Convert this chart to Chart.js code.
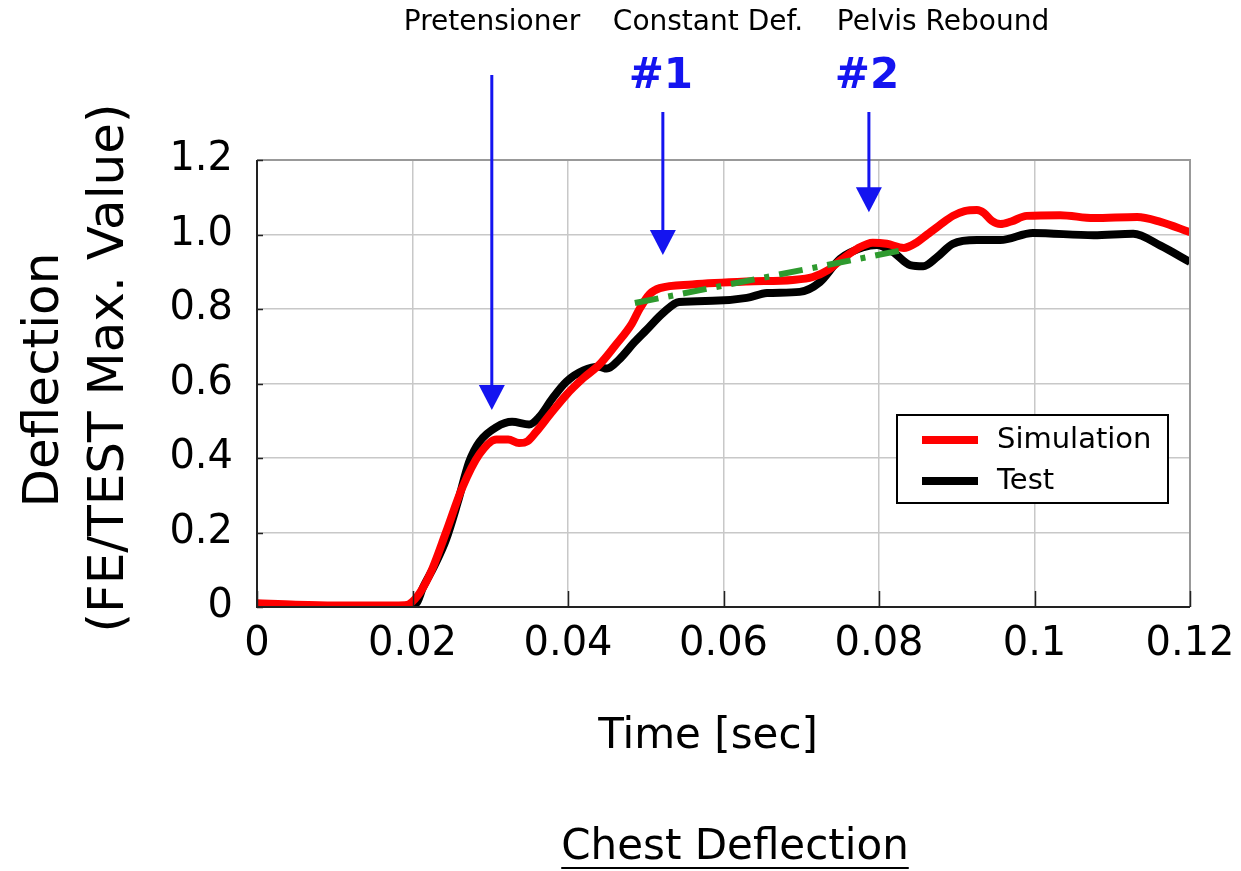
<!DOCTYPE html>
<html>
<head>
<meta charset="utf-8">
<script src="https://cdn.jsdelivr.net/npm/chart.js@4.4.1/dist/chart.umd.min.js"></script>
<style>
  html, body { margin: 0; padding: 0; background: #fff; }
  #wrap { width: 1241px; height: 871px; }
</style>
</head>
<body>
<div id="wrap"><canvas id="myChart" width="1241" height="871"></canvas></div>
<script>
// chest deflection, normalised by the test maximum
const simTime = [0, 0.005, 0.01, 0.015, 0.019, 0.0196, 0.021, 0.0225, 0.0243, 0.0264, 0.0286, 0.0308, 0.0323, 0.0337, 0.0348, 0.0359, 0.0378, 0.0398, 0.042, 0.044, 0.046, 0.0482, 0.0492, 0.0505, 0.0518, 0.056, 0.063, 0.0689, 0.0715, 0.0735, 0.075, 0.0772, 0.0792, 0.081, 0.0832, 0.0848, 0.0862, 0.0878, 0.0895, 0.091, 0.0926, 0.0935, 0.0945, 0.0956, 0.097, 0.099, 0.1033, 0.1076, 0.1132, 0.1162, 0.12];
const simDefl = [0.01, 0.006, 0.004, 0.004, 0.005, 0.008, 0.04, 0.1, 0.2, 0.32, 0.41, 0.45, 0.45, 0.44, 0.445, 0.47, 0.52, 0.57, 0.615, 0.65, 0.7, 0.76, 0.8, 0.84, 0.856, 0.866, 0.874, 0.878, 0.886, 0.905, 0.93, 0.962, 0.978, 0.975, 0.964, 0.978, 1.0, 1.025, 1.05, 1.063, 1.066, 1.058, 1.037, 1.028, 1.035, 1.05, 1.052, 1.044, 1.047, 1.034, 1.006];

const testTime = [0, 0.01, 0.019, 0.0205, 0.0213, 0.0228, 0.0243, 0.0258, 0.0273, 0.0286, 0.0308, 0.0328, 0.035, 0.0363, 0.038, 0.0398, 0.042, 0.044, 0.045, 0.0466, 0.0485, 0.0501, 0.0522, 0.0543, 0.0586, 0.063, 0.0656, 0.0698, 0.0724, 0.075, 0.078, 0.0797, 0.0818, 0.084, 0.0857, 0.0875, 0.0895, 0.0926, 0.0956, 0.0998, 0.1076, 0.1127, 0.1162, 0.12];
const testDefl = [0.005, 0.003, 0.003, 0.01, 0.05, 0.11, 0.18, 0.28, 0.39, 0.443, 0.483, 0.497, 0.49, 0.51, 0.56, 0.605, 0.635, 0.645, 0.64, 0.665, 0.71, 0.744, 0.789, 0.819, 0.822, 0.83, 0.843, 0.846, 0.872, 0.935, 0.966, 0.972, 0.953, 0.918, 0.915, 0.94, 0.975, 0.985, 0.985, 1.004, 0.998, 1.002, 0.97, 0.926];

// constant deflection trend between the two events
const trendTime = [0.0486, 0.0835];
const trendDefl = [0.816, 0.96];

const xTicks = [0, 0.02, 0.04, 0.06, 0.08, 0.1, 0.12];
const yTicks = [0, 0.2, 0.4, 0.6, 0.8, 1.0, 1.2];

// event markers: label, number, time, arrow tip value
const eventLabels = ["Pretensioner", "Constant Def.", "Pelvis Rebound"];
const eventNumbers = ["", "#1", "#2"];
const eventTime = [0.0302, 0.0522, 0.0787];
const eventTip = [0.529, 0.945, 1.06];

const FONT = "'DejaVu Sans', sans-serif";

function toPoints(xs, ys) {
    return xs.map((x, i) => ({ x: x, y: ys[i] }));
}

const extras = {
    id: "extras",
    afterDraw(chart) {
        const ctx = chart.ctx;
        const a = chart.chartArea;
        const xs = chart.scales.x;
        const ys = chart.scales.y;
        ctx.save();

        // frame: dark left/bottom, grey top/right
        ctx.lineWidth = 2;
        ctx.strokeStyle = "#999";
        ctx.beginPath();
        ctx.moveTo(a.left, a.top); ctx.lineTo(a.right, a.top); ctx.lineTo(a.right, a.bottom);
        ctx.stroke();
        ctx.strokeStyle = "#222";
        ctx.beginPath();
        ctx.moveTo(a.left, a.top); ctx.lineTo(a.left, a.bottom); ctx.lineTo(a.right, a.bottom);
        ctx.stroke();

        // inward tick marks
        ctx.lineWidth = 1.5;
        xTicks.forEach((t) => {
            const px = Math.round(xs.getPixelForValue(t)) + 0.5;
            ctx.beginPath(); ctx.moveTo(px, a.bottom); ctx.lineTo(px, a.bottom - 16); ctx.stroke();
        });
        yTicks.forEach((t) => {
            const py = Math.round(ys.getPixelForValue(t)) + 0.5;
            ctx.beginPath(); ctx.moveTo(a.left, py); ctx.lineTo(a.left + 6, py); ctx.stroke();
        });

        // axis titles
        ctx.fillStyle = "#000";
        ctx.textAlign = "center";
        ctx.textBaseline = "middle";
        ctx.font = "42px " + FONT;
        ctx.fillText("Time [sec]", 708, 737);
        ctx.font = "50px " + FONT;
        ctx.save();
        ctx.translate(45, 380);
        ctx.rotate(-Math.PI / 2);
        ctx.fillText("Deflection", 0, 0);
        ctx.restore();
        ctx.save();
        ctx.translate(110, 368);
        ctx.rotate(-Math.PI / 2);
        ctx.fillText("(FE/TEST Max. Value)", 0, 0);
        ctx.restore();

        // caption, underlined
        ctx.font = "42px " + FONT;
        const cap = "Chest Deflection";
        const cw = ctx.measureText(cap).width;
        ctx.fillText(cap, 735, 848);
        ctx.fillRect(735 - cw / 2, 867, cw, 2);

        // event labels and arrows
        eventLabels.forEach((lab, i) => {
            const px = xs.getPixelForValue(eventTime[i]);
            const tip = ys.getPixelForValue(eventTip[i]);
            const lx = [492, 708, 943][i];
            ctx.fillStyle = "#000";
            ctx.font = "28px " + FONT;
            ctx.fillText(lab, lx, 23);
            ctx.fillStyle = "#1414f0";
            if (eventNumbers[i]) {
                ctx.font = "bold 42px " + FONT;
                ctx.fillText(eventNumbers[i], px - 2, 77);
            }
            const top = i === 0 ? 75 : 112;
            ctx.strokeStyle = "#1414f0";
            ctx.lineWidth = 3;
            ctx.beginPath(); ctx.moveTo(px, top); ctx.lineTo(px, tip - 24); ctx.stroke();
            ctx.beginPath();
            ctx.moveTo(px - 13, tip - 25); ctx.lineTo(px + 13, tip - 25); ctx.lineTo(px, tip);
            ctx.closePath(); ctx.fill();
        });

        // legend box
        const lx = 897, ly = 415, lw = 271, lh = 88;
        ctx.fillStyle = "#fff";
        ctx.fillRect(lx, ly, lw, lh);
        ctx.strokeStyle = "#000";
        ctx.lineWidth = 2;
        ctx.strokeRect(lx, ly, lw, lh);
        ctx.font = "29px " + FONT;
        ctx.textAlign = "left";
        [0, 1].forEach((k) => {
            const ds = chart.data.datasets[k];
            const yy = ly + 25 + k * 41;
            ctx.fillStyle = ds.borderColor;
            ctx.fillRect(lx + 25, yy - 4, 56, 8);
            ctx.fillStyle = "#000";
            ctx.fillText(ds.label, lx + 100, yy);
        });
        ctx.restore();
    },
};

const ctx = document.getElementById("myChart");
new Chart(ctx, {
    type: "scatter",
    data: {
        datasets: [
            {
                label: "Simulation",
                data: toPoints(simTime, simDefl),
                showLine: true,
                borderColor: "#ff0000",
                borderWidth: 8,
                pointRadius: 0,
                cubicInterpolationMode: "monotone",
                order: 1,
            },
            {
                label: "Test",
                data: toPoints(testTime, testDefl),
                showLine: true,
                borderColor: "#000000",
                borderWidth: 8,
                pointRadius: 0,
                cubicInterpolationMode: "monotone",
                order: 2,
            },
            {
                label: "Trend",
                data: toPoints(trendTime, trendDefl),
                showLine: true,
                borderColor: "#2e9a2e",
                borderWidth: 6,
                borderDash: [24, 10, 5, 10],
                pointRadius: 0,
                order: 0,
            },
        ],
    },
    options: {
        responsive: false,
        animation: false,
        layout: { padding: { left: 0, top: 160, right: 51, bottom: 194 } },
        plugins: { legend: { display: false }, tooltip: { enabled: false } },
        scales: {
            x: {
                type: "linear",
                min: 0,
                max: 0.12,
                afterFit: (s) => {
                    s.height = 70;
                    s.paddingLeft = 0;
                    s.paddingRight = 0;
                },
                afterBuildTicks: (s) => { s.ticks = xTicks.map((v) => ({ value: v })); },
                grid: { color: "#c8c8c8", lineWidth: 1.5, drawTicks: false },
                border: { display: false },
                ticks: {
                    padding: 14,
                    color: "#000",
                    font: { family: FONT, size: 40 },
                    callback: (v) => String(+v.toFixed(2)),
                },
            },
            y: {
                min: 0,
                max: 1.2,
                afterFit: (s) => {
                    s.width = 257;
                    s.paddingTop = 0;
                    s.paddingBottom = 0;
                },
                afterBuildTicks: (s) => { s.ticks = yTicks.map((v) => ({ value: v })); },
                grid: { color: "#c8c8c8", lineWidth: 1.5, drawTicks: false },
                border: { display: false },
                ticks: {
                    padding: 24,
                    color: "#000",
                    font: { family: FONT, size: 40 },
                    callback: (v) => (v === 0 ? "0" : v.toFixed(1)),
                },
            },
        },
    },
    plugins: [extras],
});
</script>
</body>
</html>
